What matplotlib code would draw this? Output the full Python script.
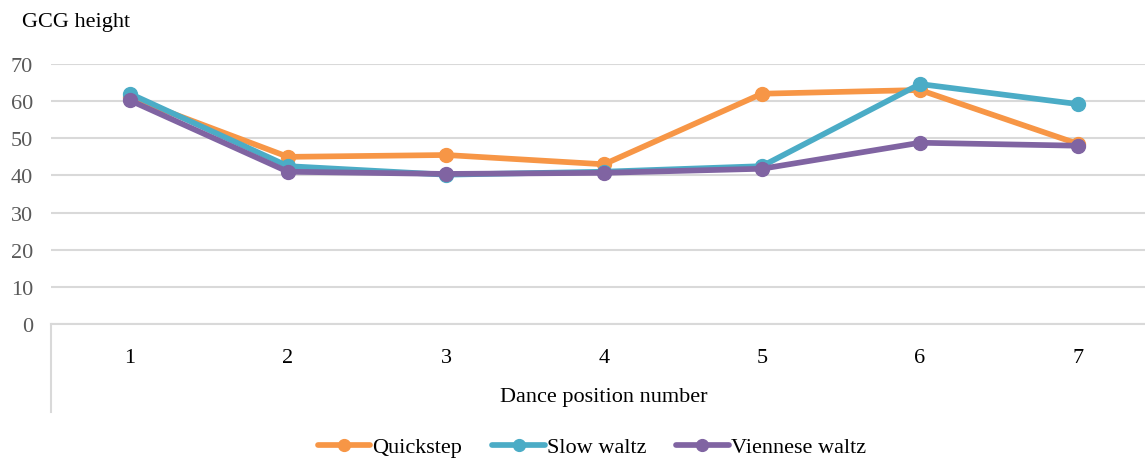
import matplotlib.pyplot as plt
from matplotlib.lines import Line2D

plt.rcParams["font.family"] = ["Liberation Serif", "DejaVu Serif"]

positions = [1, 2, 3, 4, 5, 6, 7]
quickstep = [61, 45, 45.5, 43, 62, 63, 48.5]
slow_waltz = [62, 42.5, 40.2, 41, 42.5, 64.6, 59.2]
viennese_waltz = [60.2, 41, 40.4, 40.7, 41.8, 48.8, 48]
series_names = ["Quickstep", "Slow waltz", "Viennese waltz"]
colors = ["#F79646", "#4BACC6", "#8064A2"]
y_ticks = [0, 10, 20, 30, 40, 50, 60, 70]

fig = plt.figure(figsize=(11.45, 4.6), dpi=100)
# plot area runs a little past the right edge of the picture, as in the original
ax = fig.add_axes([51 / 1145, 135 / 460, 1106 / 1145, 260 / 460])

for name, vals, col in zip(series_names, [quickstep, slow_waltz, viennese_waltz], colors):
    ax.plot(positions, vals, color=col, lw=4.1, marker="o", markersize=10,
            label=name, solid_capstyle="round", clip_on=False, zorder=3)

ax.set_xlim(0.5, 7.5)
ax.set_ylim(0, 70)
ax.set_yticks(y_ticks)
ax.set_xticks(positions)
ax.grid(axis="y", color="#D9D9D9", lw=1.5)
ax.set_axisbelow(True)
for s in ["top", "right", "left"]:
    ax.spines[s].set_visible(False)
ax.spines["bottom"].set_color("#D9D9D9")
ax.spines["bottom"].set_linewidth(1.5)
ax.tick_params(axis="both", length=0)
ax.tick_params(axis="y", labelsize=16, labelcolor="#595959", pad=13)
ax.tick_params(axis="x", labelsize=16, labelcolor="black", pad=17)

# category axis divider on the left
fig.add_artist(Line2D([51 / 1145, 51 / 1145], [47 / 460, 135 / 460],
                      color="#D9D9D9", lw=1.5))

fig.text(22 / 1145, 1 - 22 / 460, "GCG height", fontsize=16, va="center", ha="left")
fig.text(604 / 1145, 1 - 398 / 460, "Dance position number", fontsize=16,
         va="center", ha="center")

fig.legend(loc="center", bbox_to_anchor=(592 / 1145, 1 - 448 / 460), ncol=3,
           frameon=False, fontsize=16, handlelength=2.35, columnspacing=1.35,
           handletextpad=0.1, markerscale=0.85)

fig.savefig("out.png", dpi=100)
